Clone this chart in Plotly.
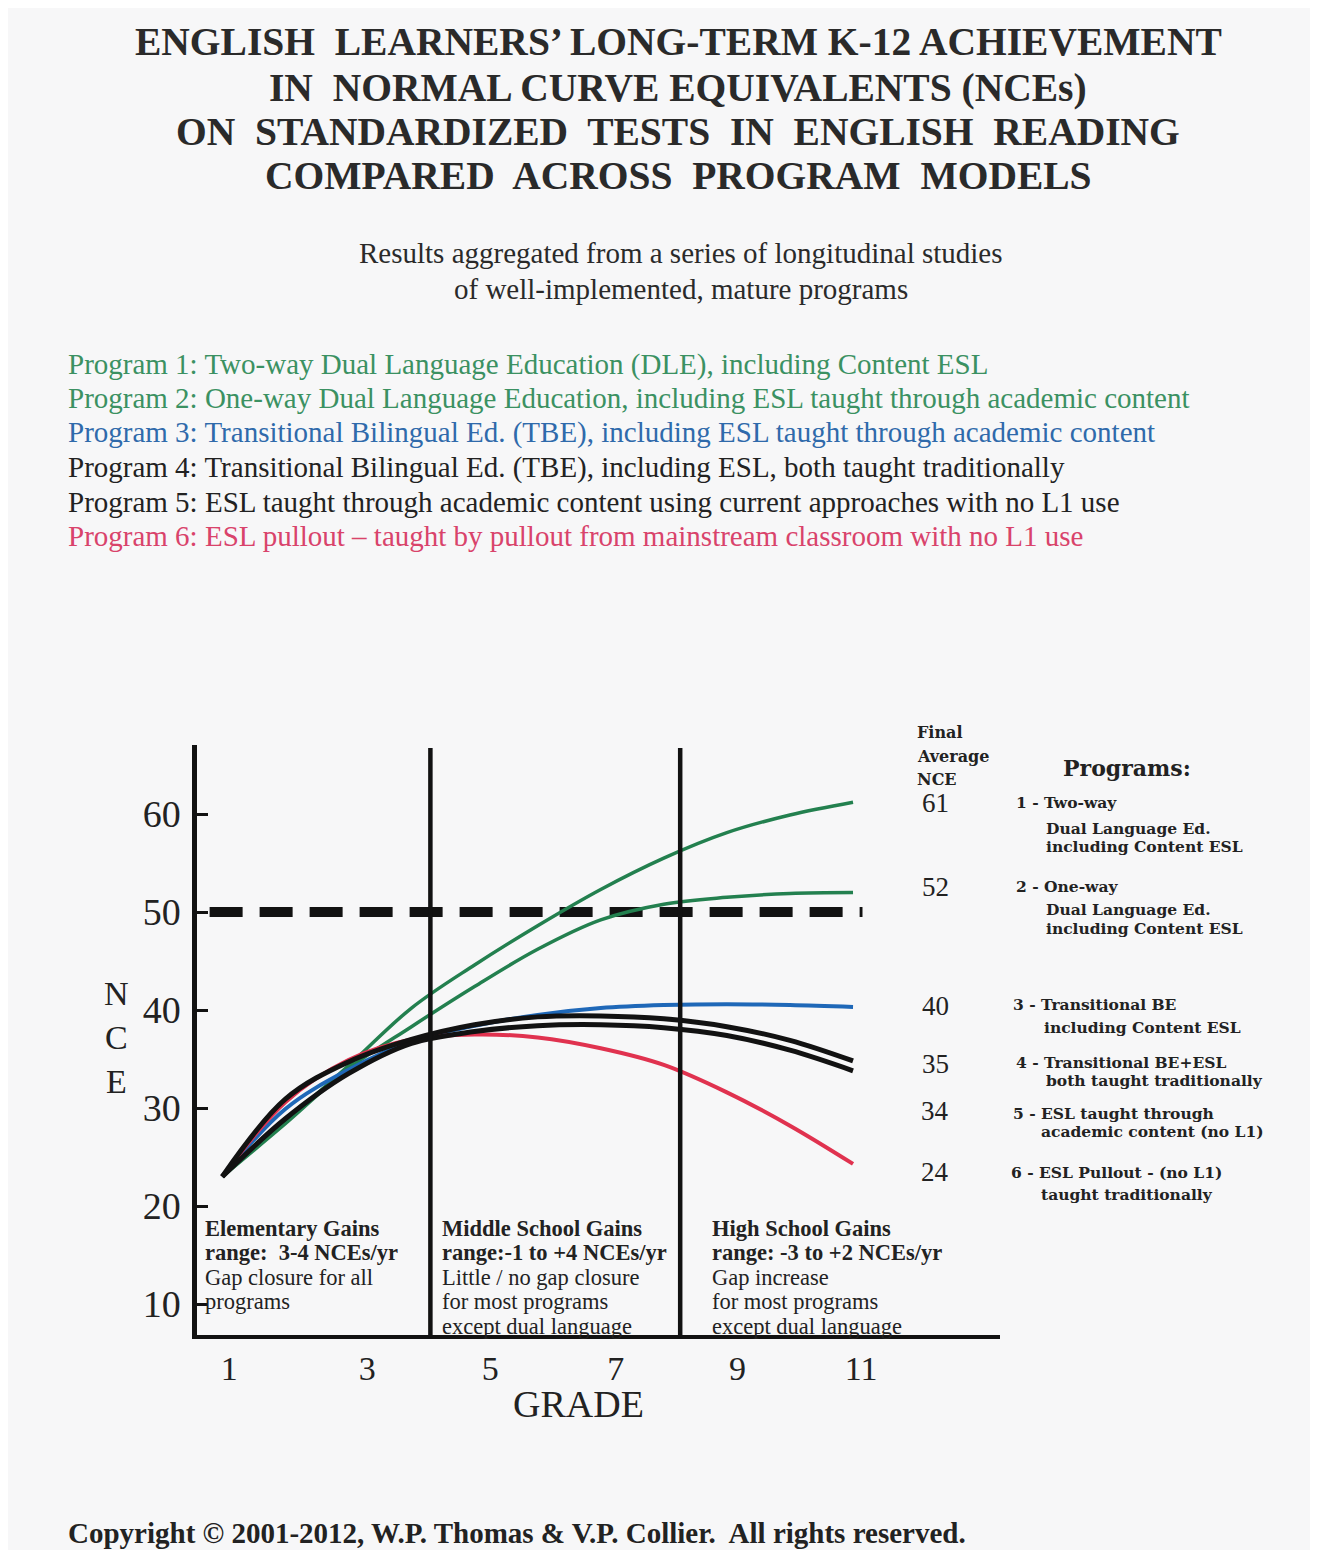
import plotly.graph_objects as go

# ---------------- data ----------------
grades = [1, 2, 3, 4, 5, 6, 7, 8, 9, 10, 11]
p1_two_way_dle = [23.0, 28.6, 34.3, 40.2, 44.6, 48.6, 52.3, 55.5, 58.1, 59.9, 61.2]
p2_one_way_dle = [23.0, 28.4, 34.0, 38.3, 42.4, 46.2, 49.2, 50.8, 51.5, 51.9, 52.0]
p3_tbe_content = [23.0, 29.9, 33.9, 36.8, 38.4, 39.5, 40.2, 40.5, 40.6, 40.5, 40.3]
p4_tbe_trad = [23.0, 30.9, 34.7, 37.0, 38.5, 39.3, 39.4, 39.1, 38.3, 36.9, 34.8]
p5_esl_content = [23.0, 28.9, 33.5, 36.6, 37.8, 38.4, 38.5, 38.2, 37.4, 35.9, 33.8]
p6_esl_pullout = [23.0, 30.6, 34.9, 37.0, 37.5, 37.2, 36.1, 34.4, 31.6, 28.2, 24.3]

final_nce = ["61", "52", "40", "35", "34", "24"]
y_ticks = [10, 20, 30, 40, 50, 60]
x_tick_labels = ["1", "3", "5", "7", "9", "11"]
norm_nce = 50
school_boundaries = [4.30, 8.26]

title_lines = [
    "ENGLISH  LEARNERS\u2019 LONG-TERM K-12 ACHIEVEMENT",
    "IN  NORMAL CURVE EQUIVALENTS (NCEs)",
    "ON  STANDARDIZED  TESTS  IN  ENGLISH  READING",
    "COMPARED  ACROSS  PROGRAM  MODELS",
]
subtitle_lines = [
    "Results aggregated from a series of longitudinal studies",
    "of well-implemented, mature programs",
]
program_lines = [
    "Program 1: Two-way Dual Language Education (DLE), including Content ESL",
    "Program 2: One-way Dual Language Education, including ESL taught through academic content",
    "Program 3: Transitional Bilingual Ed. (TBE), including ESL taught through academic content",
    "Program 4: Transitional Bilingual Ed. (TBE), including ESL, both taught traditionally",
    "Program 5: ESL taught through academic content using current approaches with no L1 use",
    "Program 6: ESL pullout \u2013 taught by pullout from mainstream classroom with no L1 use",
]
legend_items = [
    ["1 - Two-way", "Dual Language Ed.", "including Content ESL"],
    ["2 - One-way", "Dual Language Ed.", "including Content ESL"],
    ["3 - Transitional BE", "including Content ESL"],
    ["4 - Transitional BE+ESL", "both taught traditionally"],
    ["5 - ESL taught through", "academic content (no L1)"],
    ["6 - ESL Pullout - (no L1)", "taught traditionally"],
]
sections = [
    ["Elementary Gains", "range:  3-4 NCEs/yr", "Gap closure for all", "programs"],
    ["Middle School Gains", "range:-1 to +4 NCEs/yr", "Little / no gap closure", "for most programs", "except dual language"],
    ["High School Gains", "range: -3 to +2 NCEs/yr", "Gap increase", "for most programs", "except dual language"],
]
copyright_text = "Copyright \u00a9 2001-2012, W.P. Thomas & V.P. Collier.  All rights reserved."

# ---------------- layout helpers ----------------
OFF = 8                      # page body margin of the html page
W, H = 1318 - OFF, 1550 - OFF
PL, PR, PT, PB = 197, 1000, 745, 1335  # plot area in page pixels
SERIF = "Liberation Serif, Times New Roman, serif"
WIDE = "DejaVu Serif, serif"
BG = "#f7f7f8"
GREEN = "#23804f"
BLUE = "#1f68b8"
BLACK = "#121212"
RED = "#e0324f"


def px(x):
    return (x - PL) / (PR - PL)


def py(y):
    return (PB - y) / (PB - PT)


fig = go.Figure()

series = [
    (p1_two_way_dle, GREEN, 3.5),
    (p2_one_way_dle, GREEN, 3.5),
    (p3_tbe_content, BLUE, 4),
    (p6_esl_pullout, RED, 4),
    (p4_tbe_trad, BLACK, 5),
    (p5_esl_content, BLACK, 5),
]
for vals, col, w in series:
    fig.add_trace(go.Scatter(x=grades, y=vals, mode="lines",
                             line=dict(color=col, width=w, shape="spline", smoothing=1.0),
                             showlegend=False, hoverinfo="x+y"))

shapes = []
shapes.append(dict(type="line", xref="x", yref="y", x0=0.80, x1=11.15, y0=norm_nce, y1=norm_nce,
                   line=dict(color=BLACK, width=10, dash="33px,17px"), layer="below"))
for b in school_boundaries:
    shapes.append(dict(type="line", xref="x", yref="paper", x0=b, x1=b, y0=0, y1=py(748),
                       line=dict(color=BLACK, width=4.5)))

ann = []


def text(x, y, s, size, color="#1a1a1a", bold=False, anchor="left", yanchor="middle", family=SERIF):
    if bold:
        s = "<b>" + s + "</b>"
    ann.append(dict(xref="paper", yref="paper", x=px(x), y=py(y), text=s, showarrow=False,
                    xanchor=anchor, yanchor=yanchor,
                    font=dict(family=family, size=size, color=color)))


for s, y in zip(title_lines, [42, 88, 132, 176]):
    text(678, y, s, 39.5, "#2a2a2a", bold=True, anchor="center")
for s, y in zip(subtitle_lines, [253, 289]):
    text(681, y, s, 29, "#2a2a2a", anchor="center")
prog_colors = ["#3b9162", "#3b9162", "#2f6aab", "#222222", "#222222", "#d9436b"]
for s, y, c in zip(program_lines, [364, 398, 433, 467, 502, 536], prog_colors):
    text(66, y, s, 29, c)

text(116, 1037, "N<br>C<br>E", 34, "#222222", anchor="center")
text(578, 1404, "GRADE", 38, "#222222", anchor="center")

for s, y in zip(["Final", "Average", "NCE"], [732, 756, 779]):
    text(915, y, s, 16, "#222222", bold=True, family=WIDE)
for s, y in zip(final_nce, [803, 887, 1006, 1064, 1111, 1172]):
    text(935, y, s, 27, "#222222", anchor="center")
text(1127, 768, "Programs:", 22, "#222222", bold=True, anchor="center", family=WIDE)
legend_pos = [
    [(1014, 802), (1044, 828), (1044, 846)],
    [(1014, 886), (1044, 909), (1044, 928)],
    [(1011, 1004), (1042, 1027)],
    [(1014, 1062), (1044, 1080)],
    [(1011, 1113), (1039, 1131)],
    [(1009, 1172), (1039, 1194)],
]
for lines, poss in zip(legend_items, legend_pos):
    for s, (x, y) in zip(lines, poss):
        text(x, y, s, 15.5, "#222222", bold=True, family=WIDE)

sec_x = [203, 440, 710]
for lines, x in zip(sections, sec_x):
    for i, s in enumerate(lines):
        y = 1228 + i * 24.5
        text(x, y, s, 22.5, "#222222", bold=(i < 2))

text(66, 1533, copyright_text, 29, "#222222", bold=True)

# x tick positions (slightly to the right of each grade, as in the original)
tick_pos = [1.11, 3.30, 5.25, 7.24, 9.17, 11.13]

fig.update_layout(
    width=W, height=H,
    margin=dict(l=PL - OFF, r=W - (PR - OFF), t=PT - OFF, b=H - (PB - OFF), pad=0),
    paper_bgcolor=BG, plot_bgcolor=BG,
    showlegend=False,
    shapes=shapes, annotations=ann,
    xaxis=dict(range=[0.60, 13.33], showgrid=False, zeroline=False,
               showline=True, linecolor=BLACK, linewidth=4,
               tickvals=tick_pos, ticktext=x_tick_labels, ticks="",
               tickfont=dict(family=SERIF, size=34, color="#222222"),
               ticklabelstandoff=0),
    yaxis=dict(range=[6.84, 67.04], showgrid=False, zeroline=False,
               showline=True, linecolor=BLACK, linewidth=4.5,
               tickvals=y_ticks, ticks="inside", ticklen=11, tickwidth=3, tickcolor=BLACK,
               tickfont=dict(family=SERIF, size=38, color="#222222"),
               ticklabelstandoff=4),
)

fig.write_html("out.html")
